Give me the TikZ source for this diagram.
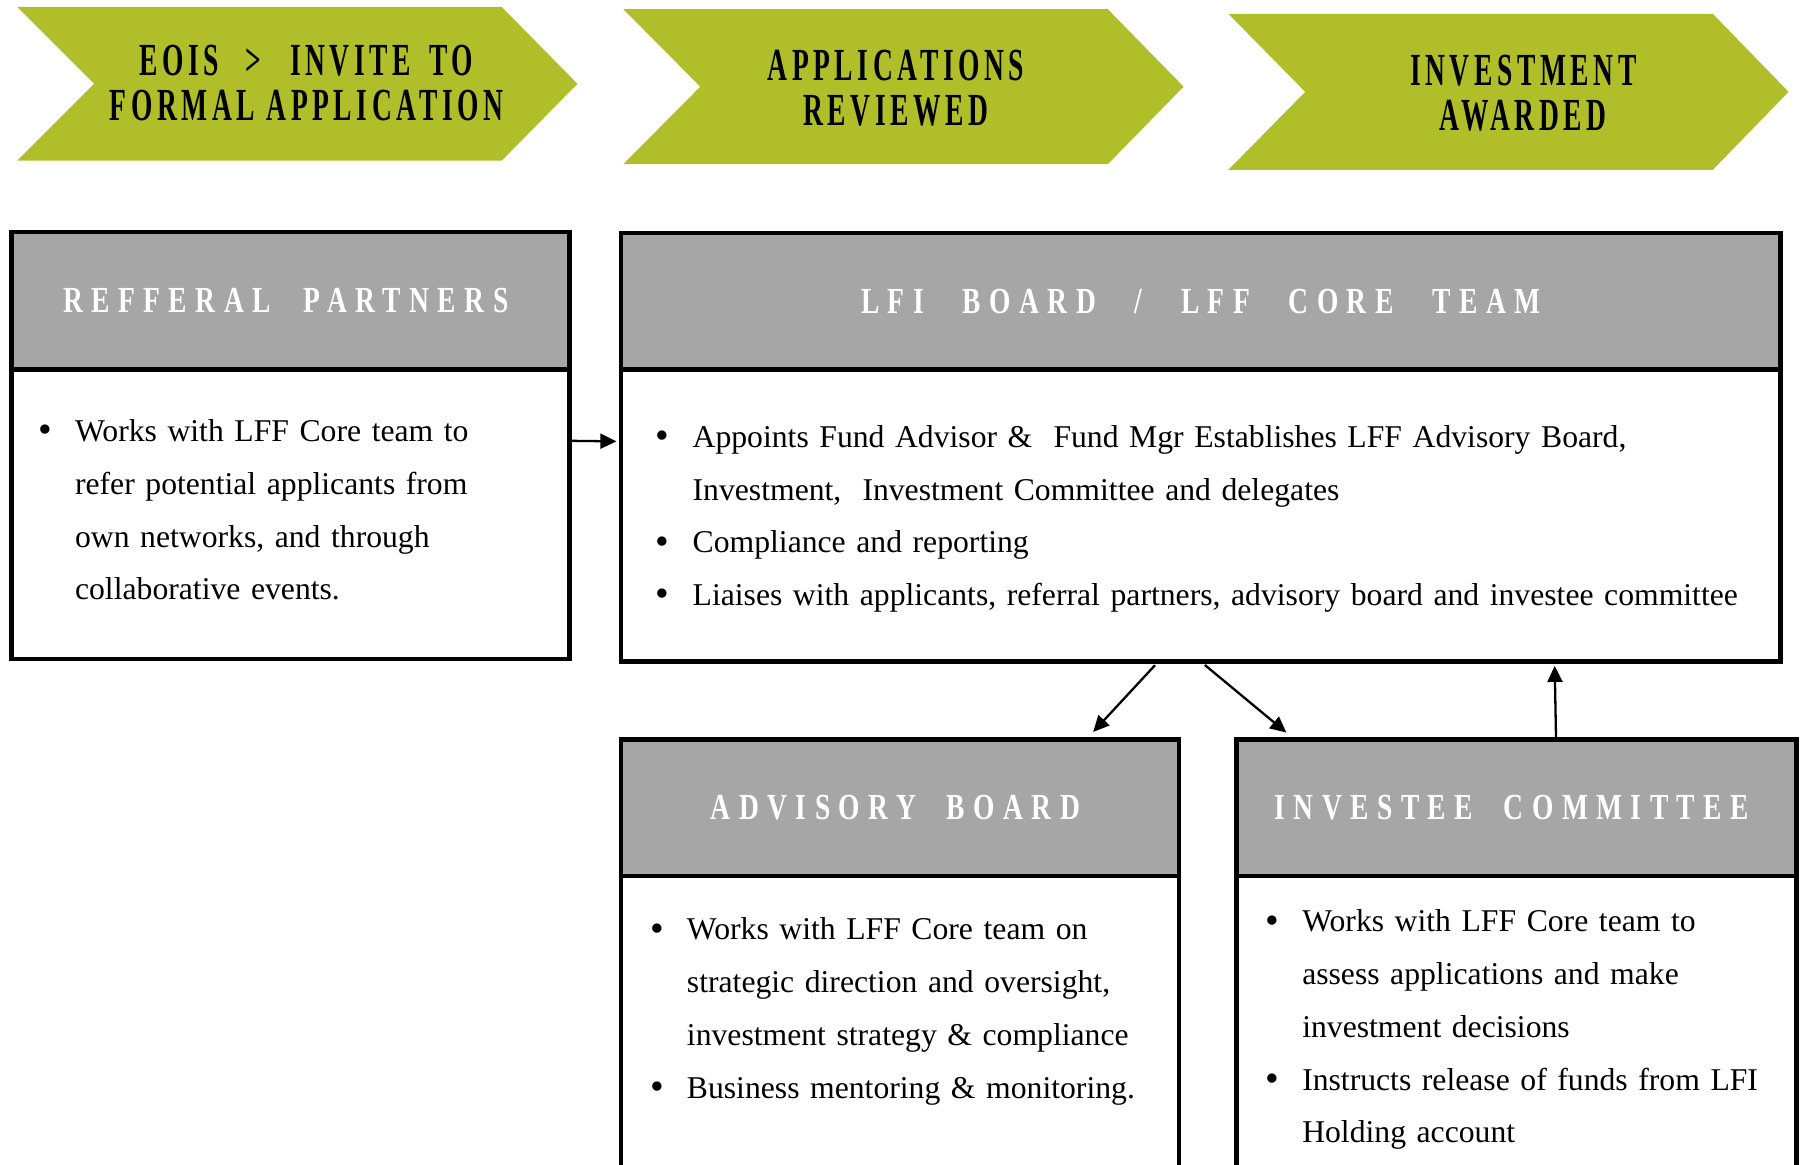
\documentclass[tikz,border=0pt]{standalone}
\usepackage{fontspec}
\setmainfont{Liberation Serif}
\newfontfamily\chevfont[FakeStretch=0.6,LetterSpace=10]{Liberation Serif}
\newfontfamily\hdrfont[FakeStretch=0.75,LetterSpace=23]{Liberation Serif}
\usetikzlibrary{arrows.meta,calc}
\definecolor{chevgreen}{RGB}{175,190,41}
\definecolor{hdrgray}{RGB}{166,166,166}
\newcommand{\nl}{\hfil\break}
\newcommand{\wgap}{\ \ \hspace{3.5pt}}
\newcommand{\bitem}[1]{\noindent\hangindent=16pt\hangafter=1\makebox[16pt][l]{\raisebox{-0.6pt}{\fontsize{17}{17}\selectfont\textbullet}}#1\par}
\tikzset{
  chevshape/.style={fill=chevgreen},
  chevtext/.style={align=center,inner sep=0pt,font=\chevfont\bfseries\fontsize{20}{19.5}\selectfont},
  hdrbox/.style={draw=black,line width=2pt,fill=hdrgray,inner sep=0pt},
  hdrtitle/.style={text=white,inner sep=0pt,font=\hdrfont\bfseries\fontsize{16}{18}\selectfont},
  bodybox/.style={draw=black,line width=2pt,fill=white,inner sep=0pt},
  bodytext/.style={anchor=north west,inner sep=0pt,font=\fontsize{13.8}{23}\selectfont},
  conn/.style={-{Triangle[length=7pt,width=6.5pt]},line width=1pt,black}
}
\begin{document}
\begin{tikzpicture}[x=0.5pt,y=-0.5pt]
\clip (0,0) rectangle (1568,1014);
\fill[white] (0,0) rectangle (1568,1014);
% chevrons
\fill[chevshape] (15,6) -- (437,6) -- (503,73) -- (437,140) -- (15,140) -- (82,73) -- cycle;
\fill[chevshape] (543,8) -- (965,8) -- (1031,75.5) -- (965,143) -- (543,143) -- (610,75.5) -- cycle;
\fill[chevshape] (1070,12) -- (1492,12) -- (1558,80) -- (1492,148) -- (1070,148) -- (1137,80) -- cycle;
\node[chevtext] (ch1) at (267,72.5) {EOIS\hspace{6.5pt} >\hspace{7.5pt} INVITE\hspace{3pt} TO\\FORMAL APPLICATION};
\node[chevtext] (ch2) at (780.5,77) {APPLICATIONS\\REVIEWED};
\node[chevtext] (ch3) at (1327,81) {INVESTMENT\\AWARDED};
% boxes
\node[bodybox,minimum width=243pt,minimum height=126pt] (refbody) at (253,448) {};
\node[hdrbox,minimum width=243pt,minimum height=60pt] (refhead) at (253,262) {};
\node[hdrtitle] (reftitle) at ([xshift=-2pt]refhead.center) {REFFERAL\ \ \hspace{1pt}PARTNERS};
\node[bodybox,minimum width=505pt,minimum height=127pt] (lfibody) at (1046,449) {};
\node[hdrbox,minimum width=505pt,minimum height=59.5pt] (lfihead) at (1046,262.5) {};
\node[hdrtitle] (lfititle) at (lfihead.center) {LFI\wgap BOARD\wgap /\wgap LFF\wgap CORE\wgap TEAM};
\node[bodybox,minimum width=243pt,minimum height=143.5pt] (advbody) at (784,906.5) {};
\node[hdrbox,minimum width=243pt,minimum height=59.5pt] (advhead) at (784,703.5) {};
\node[hdrtitle] (advtitle) at ([xshift=-2pt]advhead.center) {ADVISORY\ \ BOARD};
\node[bodybox,minimum width=244pt,minimum height=143.5pt] (invbody) at (1321,906.5) {};
\node[hdrbox,minimum width=244pt,minimum height=59.5pt] (invhead) at (1321,703.5) {};
\node[hdrtitle] (invtitle) at ([xshift=-2pt]invhead.center) {INVESTEE\ \ COMMITTEE};
% body texts
\node[bodytext,text width=230pt] (reftext) at (33,365) {\bitem{Works with LFF Core team to\nl refer potential applicants from\nl own networks, and through\nl collaborative events.}};
\node[bodytext,text width=500pt] (lfitext) at (571,370) {\bitem{Appoints Fund Advisor \&\ \ Fund Mgr Establishes LFF Advisory Board,\nl Investment,\ \ Investment Committee and delegates}\bitem{Compliance and reporting}\bitem{Liaises with applicants, referral partners, advisory board and investee committee}};
\node[bodytext,text width=235pt] (advtext) at (566,799) {\bitem{Works with LFF Core team on\nl strategic direction and oversight,\nl investment strategy \& compliance}\bitem{Business mentoring \& monitoring.}};
\node[bodytext,text width=235pt] (invtext) at (1102,792) {\bitem{Works with LFF Core team to\nl assess applications and make\nl investment decisions}\bitem{Instructs release of funds from LFI\nl Holding account}};
% connectors
\draw[conn,shorten >=1pt] ($(refbody.north east)!0.25!(refbody.south east)$) -- ($(lfibody.north west)!0.25!(lfibody.south west)$);
\draw[conn,shorten >=3pt,shorten <=1pt] ($(lfibody.south west)!0.462!(lfibody.south east)$) -- ($(advhead.north west)!0.835!(advhead.north east)$);
\draw[conn,shorten >=3pt,shorten <=1pt] ($(lfibody.south west)!0.502!(lfibody.south east)$) -- ($(invhead.north west)!0.102!(invhead.north east)$);
\draw[conn,shorten >=1pt] ($(invhead.north west)!0.57!(invhead.north east)$) -- ($(lfibody.south west)!0.804!(lfibody.south east)$);
\end{tikzpicture}
\end{document}
